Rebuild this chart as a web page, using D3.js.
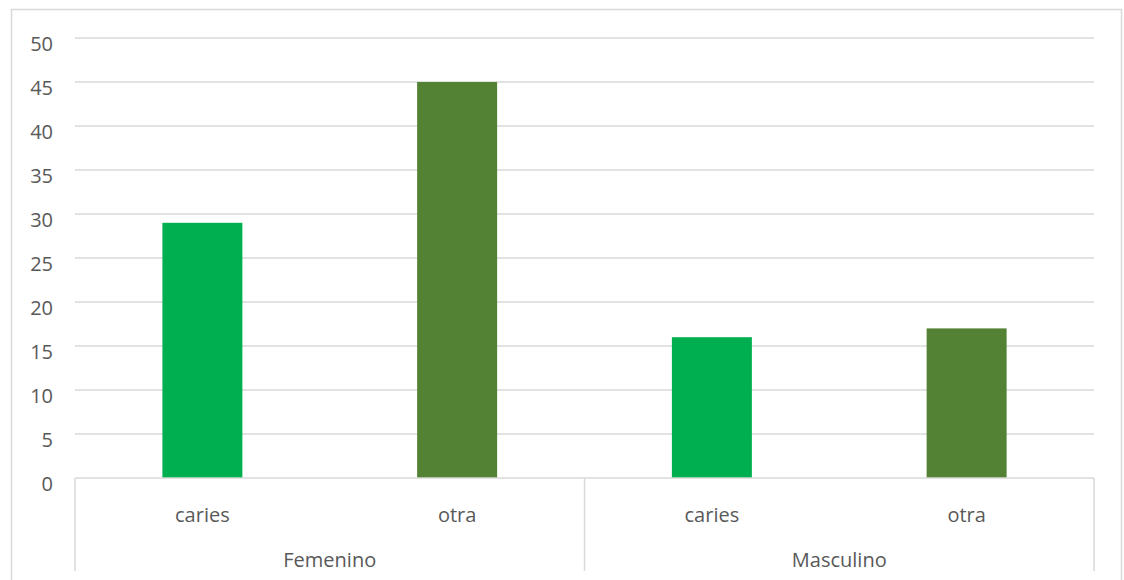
<!DOCTYPE html>
<html>
<head>
<meta charset="utf-8">
<script src="https://cdn.jsdelivr.net/npm/d3@7"></script>
<style>
  html, body { margin: 0; padding: 0; background: #fff; }
  svg { display: block; }
  text { font-family: "Open Sans", "Noto Sans", sans-serif; fill: #595959; }
</style>
</head>
<body>
<svg id="chart" width="1124" height="580"></svg>
<script>
// Data: two groups, two categories each
const groups = ["Femenino", "Masculino"];
const categories = ["caries", "otra"];
const values = [29, 45, 16, 17];        // Femenino caries, otra, Masculino caries, otra
const yTicks = [0, 5, 10, 15, 20, 25, 30, 35, 40, 45, 50];
const colors = ["#00B050", "#548235"];

const svg = d3.select("#chart");
const plot = { left: 75, right: 1094, top: 38, bottom: 478, axisBottom: 571 };

// Outer chart frame
svg.append("rect")
  .attr("x", 11.5).attr("y", 9.5)
  .attr("width", 1110).attr("height", 600)
  .attr("fill", "#fff").attr("stroke", "#d9d9d9").attr("stroke-width", 1.5);

// Flattened items for the bars
const items = [];
groups.forEach((g, gi) => categories.forEach((c, ci) => {
  items.push({ key: g + "|" + c, group: g, cat: c, ci: ci, value: values[gi * categories.length + ci] });
}));

const x = d3.scaleBand().domain(items.map(d => d.key)).range([plot.left, plot.right]).paddingInner(0.686).paddingOuter(0.343);
const y = d3.scaleLinear().domain([0, 50]).range([plot.bottom, plot.top]);

// Gridlines
svg.append("g").selectAll("line").data(yTicks.filter(t => t > 0)).join("line")
  .attr("x1", plot.left).attr("x2", plot.right)
  .attr("y1", d => y(d)).attr("y2", d => y(d))
  .attr("stroke", "#d9d9d9").attr("stroke-width", 1.5);

// Y axis labels
const yAxis = d3.axisLeft(y).tickValues(yTicks).tickSize(0).tickPadding(0);
const ya = svg.append("g").attr("transform", `translate(${plot.left - 22},5)`).call(yAxis);
ya.select(".domain").remove();
ya.selectAll("text").attr("font-size", 20).attr("font-family", null).attr("fill", "#595959").attr("dy", "0.35em");

// Bars
svg.append("g").selectAll("rect").data(items).join("rect")
  .attr("x", d => x(d.key))
  .attr("width", x.bandwidth())
  .attr("y", d => y(d.value))
  .attr("height", d => y(0) - y(d.value))
  .attr("fill", d => colors[d.ci]);

// Category axis baseline and group separators
svg.append("line")
  .attr("x1", plot.left).attr("x2", plot.right).attr("y1", plot.bottom).attr("y2", plot.bottom)
  .attr("stroke", "#d9d9d9").attr("stroke-width", 1.5);

const gx = d3.scaleBand().domain(groups).range([plot.left, plot.right]);
const seps = [plot.left].concat(groups.map(g => gx(g) + gx.bandwidth()));
svg.append("g").selectAll("line").data(seps).join("line")
  .attr("x1", d => d).attr("x2", d => d)
  .attr("y1", plot.bottom).attr("y2", plot.axisBottom)
  .attr("stroke", "#d9d9d9").attr("stroke-width", 1.5);

// Category labels
svg.append("g").selectAll("text").data(items).join("text")
  .attr("x", d => x(d.key) + x.bandwidth() / 2)
  .attr("y", 515).attr("dy", "0.35em")
  .attr("text-anchor", "middle").attr("font-size", 20)
  .text(d => d.cat);

// Group labels
svg.append("g").selectAll("text").data(groups).join("text")
  .attr("x", d => gx(d) + gx.bandwidth() / 2)
  .attr("y", 560).attr("dy", "0.35em")
  .attr("text-anchor", "middle").attr("font-size", 20)
  .text(d => d);
</script>
</body>
</html>
